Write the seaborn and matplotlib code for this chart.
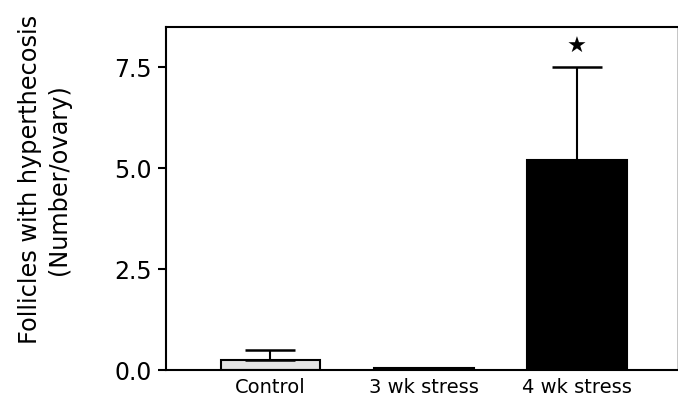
"""Follicles with hyperthecosis per ovary, control vs. stress groups."""

import matplotlib

matplotlib.use("Agg")
import matplotlib.pyplot as plt
import pandas as pd
import seaborn as sns

groups = ["Control", "3 wk stress", "4 wk stress"]
means = [0.25, 0.05, 5.2]
sem_upper = [0.25, 0.0, 2.3]
bar_colors = ["#e4e4e4", "#000000", "#000000"]
significant = [False, False, True]
y_ticks = [0.0, 2.5, 5.0, 7.5]


def main() -> None:
    sns.set_style("ticks", {"text.color": "black", "axes.labelcolor": "black",
                            "xtick.color": "black", "ytick.color": "black"})
    plt.rcParams["font.family"] = ["DejaVu Sans"]

    df = pd.DataFrame({"group": groups, "mean": means})

    fig = plt.figure(figsize=(6.78, 3.98), dpi=100)
    ax = fig.add_axes([0.245, 0.070, 0.753, 0.862])

    sns.barplot(
        data=df,
        x="group",
        y="mean",
        hue="group",
        palette=bar_colors,
        legend=False,
        width=0.65,
        edgecolor="black",
        linewidth=1.5,
        ax=ax,
    )

    for i, (m, e) in enumerate(zip(means, sem_upper)):
        if e > 0:
            ax.errorbar(
                i, m, yerr=[[0], [e]], fmt="none", ecolor="black",
                elinewidth=1.5, capsize=18, capthick=1.8,
            )
        if significant[i]:
            ax.text(i, m + e + 0.25, "★", ha="center", va="bottom",
                    fontsize=16, color="black")

    ax.set_ylim(0, 8.5)
    ax.set_xlim(-0.68, 2.65)
    ax.set_yticks(y_ticks)
    ax.set_yticklabels([f"{t:.1f}" for t in y_ticks], fontsize=17)
    ax.tick_params(axis="y", length=6, width=1.5, pad=4)
    ax.tick_params(axis="x", length=0, labelsize=14, pad=6)
    ax.set_xlabel("")
    ax.set_ylabel("Follicles with hyperthecosis\n(Number/ovary)",
                  fontsize=17.3, linespacing=1.25)
    ax.yaxis.set_label_coords(-0.186, 0.555)

    for side in ["left", "bottom", "top"]:
        ax.spines[side].set_linewidth(1.5)
        ax.spines[side].set_color("black")
    ax.spines["right"].set_linewidth(0.6)
    ax.spines["right"].set_color("#bbbbbb")

    fig.savefig("out.png", dpi=100)
    plt.close(fig)


if __name__ == "__main__":
    main()
